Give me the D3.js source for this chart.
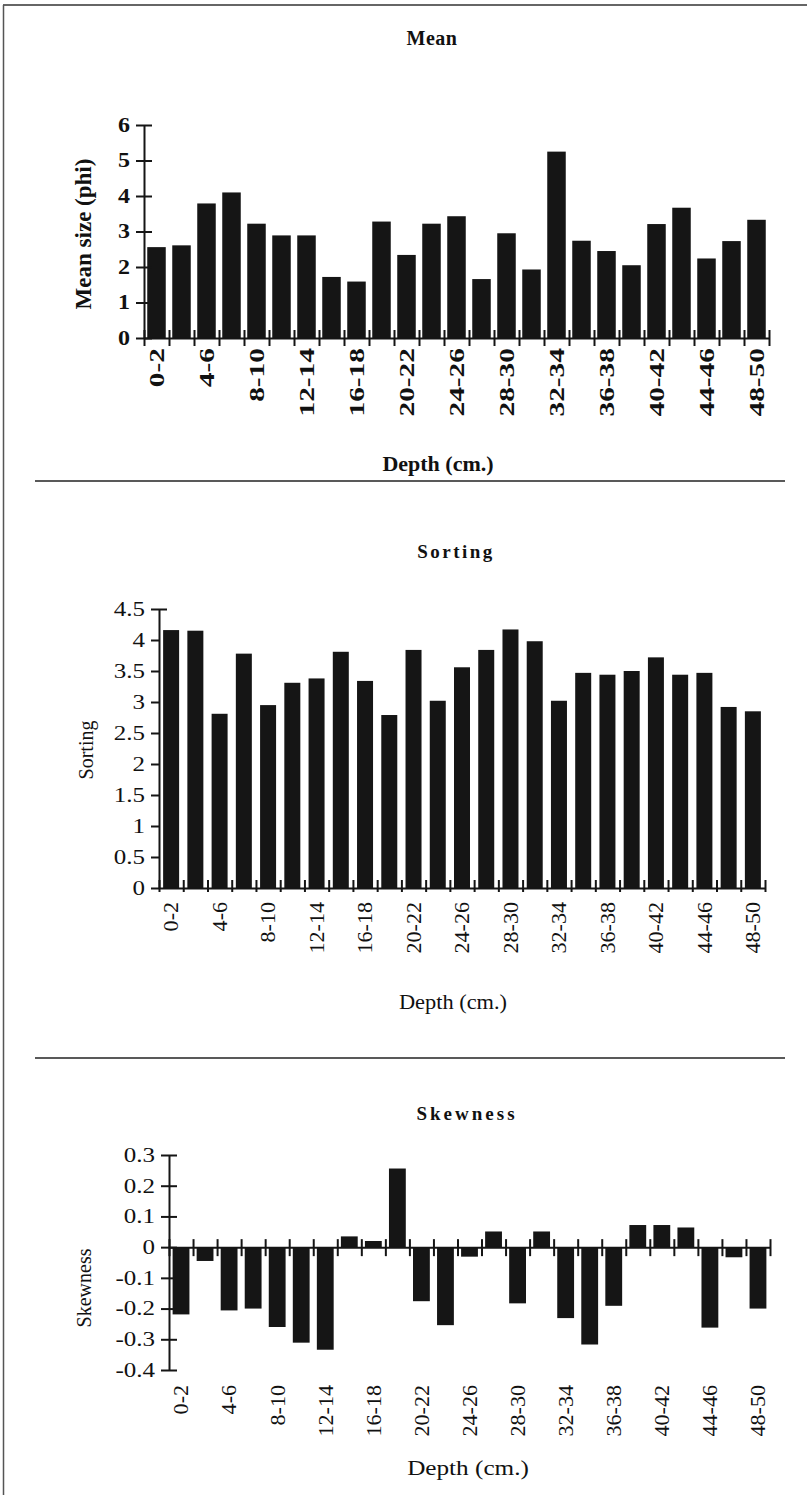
<!DOCTYPE html>
<html>
<head>
<meta charset="utf-8">
<script src="https://cdn.jsdelivr.net/npm/d3@7"></script>
<style>
  body { margin: 0; background: #fff; }
  text { font-family: "Liberation Serif", "Times New Roman", serif; fill: #111; }
</style>
</head>
<body>
<svg id="fig" width="807" height="1495"></svg>
<script>
// Sample depth intervals (cm)
const depths = ["0-2","2-4","4-6","6-8","8-10","10-12","12-14","14-16","16-18","18-20",
  "20-22","22-24","24-26","26-28","28-30","30-32","32-34","34-36","36-38","38-40",
  "40-42","42-44","44-46","46-48","48-50"];

// Grain-size statistics per interval
const meanSize = [2.56,2.61,3.79,4.10,3.22,2.89,2.89,1.72,1.59,3.28,2.34,3.22,3.43,
  1.66,2.95,1.93,5.25,2.74,2.45,2.05,3.21,3.67,2.24,2.73,3.33];
const sorting = [4.16,4.15,2.81,3.78,2.95,3.31,3.38,3.81,3.34,2.79,3.84,3.02,3.56,
  3.84,4.17,3.98,3.02,3.47,3.44,3.50,3.72,3.44,3.47,2.92,2.85];
const skewness = [-0.219,-0.045,-0.206,-0.200,-0.260,-0.311,-0.334,0.035,0.020,0.256,
  -0.176,-0.254,-0.031,0.051,-0.183,0.051,-0.231,-0.317,-0.191,0.072,0.072,0.064,
  -0.262,-0.033,-0.200];

// Axis tick values
const meanTicks = [0,1,2,3,4,5,6];
const sortingTicks = [0,0.5,1,1.5,2,2.5,3,3.5,4,4.5];
const skewTicks = [-0.4,-0.3,-0.2,-0.1,0,0.1,0.2,0.3];
const labelledDepths = ["0-2","4-6","8-10","12-14","16-18","20-22","24-26","28-30",
  "32-34","36-38","40-42","44-46","48-50"];

const svg = d3.select("#fig");
const ink = "#151515";

// page frame and panel separators
svg.append("line").attr("x1", 3).attr("x2", 807).attr("y1", 5).attr("y2", 5)
  .attr("stroke", "#333").attr("stroke-width", 1.5);
svg.append("line").attr("x1", 3.5).attr("x2", 3.5).attr("y1", 5).attr("y2", 1495)
  .attr("stroke", "#555").attr("stroke-width", 1.5);
[481, 1058].forEach(yy => svg.append("line")
  .attr("x1", 35).attr("x2", 785).attr("y1", yy).attr("y2", yy)
  .attr("stroke", "#222").attr("stroke-width", 1.5));

function fmt(v) { return String(+v.toFixed(1)); }

function panel(cfg) {
  const g = svg.append("g");
  const x = d3.scaleBand().domain(depths).range([cfg.x0, cfg.x1])
    .paddingInner(cfg.pad).paddingOuter(cfg.pad / 2);
  const xi = d3.scaleLinear().domain([0, depths.length]).range([cfg.x0, cfg.x1]);
  const y = d3.scaleLinear().domain(cfg.domain).range([cfg.yb, cfg.yt]);
  const weight = cfg.bold ? "bold" : "normal";

  // bars
  g.append("g").selectAll("rect").data(cfg.values).join("rect")
    .attr("x", (d, i) => x(depths[i]))
    .attr("width", x.bandwidth())
    .attr("y", d => y(Math.max(0, d)))
    .attr("height", d => Math.abs(y(d) - y(0)))
    .attr("fill", ink);

  // y axis
  const ya = g.append("g").attr("transform", `translate(${cfg.x0},0)`)
    .call(d3.axisLeft(y).tickValues(cfg.ticks).tickFormat(fmt)
      .tickSize(8).tickSizeOuter(0).tickPadding(6));
  ya.select(".domain").attr("stroke", ink).attr("stroke-width", 2);
  ya.selectAll(".tick line").attr("stroke", ink).attr("stroke-width", 2)
    .attr("x1", d => (cfg.crossY || d === cfg.domain[1]) ? 8 : 0);
  ya.selectAll(".tick text")
    .attr("x", 0)
    .attr("transform", `translate(-14,0) scale(${cfg.yStretch},1)`)
    .style("font-size", cfg.yFont + "px")
    .style("font-weight", weight).style("font-family", "Liberation Serif");

  // x axis along zero with ticks at interval boundaries
  const xa = g.append("g").attr("transform", `translate(0,${y(0)})`)
    .call(d3.axisBottom(xi).tickValues(d3.range(depths.length + 1))
      .tickFormat("").tickSize(cfg.tickDown).tickSizeOuter(0));
  xa.select(".domain").attr("stroke", ink).attr("stroke-width", 2);
  xa.selectAll(".tick line").attr("stroke", ink).attr("stroke-width", 2)
    .attr("y1", -cfg.tickUp);

  // rotated depth labels
  const la = g.append("g").attr("transform", `translate(0,${cfg.labelY})`)
    .call(d3.axisBottom(x).tickValues(labelledDepths).tickSize(0));
  la.select(".domain").remove();
  la.selectAll(".tick text")
    .attr("transform", `rotate(-90) scale(${cfg.labelStretch},1)`)
    .attr("x", 0).attr("y", 0).attr("dy", "0.35em")
    .attr("text-anchor", "end")
    .style("font-size", cfg.xFont + "px")
    .style("font-weight", weight).style("font-family", "Liberation Serif");

  // titles
  g.append("text").attr("x", cfg.titleX).attr("y", cfg.titleY)
    .attr("text-anchor", "middle").attr("dominant-baseline", "middle")
    .style("font-size", cfg.titleFont + "px").style("font-weight", "bold")
    .style("letter-spacing", cfg.spacing + "px").text(cfg.title);
  g.append("text")
    .attr("transform", `translate(${cfg.xTitleX},${cfg.xTitleY}) scale(${cfg.xTitleStretch},1)`)
    .attr("text-anchor", "middle").attr("dominant-baseline", "middle")
    .style("font-size", cfg.xTitleFont + "px").style("font-weight", weight).text("Depth (cm.)");
  g.append("text")
    .attr("transform", `translate(${cfg.yTitleX},${cfg.yTitleY}) rotate(-90)`)
    .attr("text-anchor", "middle").attr("dominant-baseline", "middle")
    .style("font-size", cfg.yTitleFont + "px").style("font-weight", weight).text(cfg.yTitle);
}

panel({ title: "Mean", values: meanSize, domain: [0, 6], ticks: meanTicks,
  x0: 144, x1: 769, yb: 338, yt: 125, pad: 0.26, bold: true, crossY: true,
  yFont: 20, yStretch: 1.2, xFont: 21, labelStretch: 1.4, tickUp: 8, tickDown: 8, labelY: 348,
  titleX: 432, titleY: 40, titleFont: 20, spacing: 0.5,
  xTitleX: 438, xTitleY: 466, xTitleFont: 20, xTitleStretch: 1.1,
  yTitle: "Mean size (phi)", yTitleX: 86, yTitleY: 234, yTitleFont: 23 });

panel({ title: "Sorting", values: sorting, domain: [0, 4.5], ticks: sortingTicks,
  x0: 159, x1: 765, yb: 888, yt: 609, pad: 0.34, bold: false, crossY: false,
  yFont: 20, yStretch: 1.25, xFont: 21, labelStretch: 1.05, tickUp: 8, tickDown: 4, labelY: 902,
  titleX: 456, titleY: 554, titleFont: 19, spacing: 2.5,
  xTitleX: 453, xTitleY: 1004, xTitleFont: 20, xTitleStretch: 1.12,
  yTitle: "Sorting", yTitleX: 88, yTitleY: 750, yTitleFont: 20 });

panel({ title: "Skewness", values: skewness, domain: [-0.4, 0.3], ticks: skewTicks,
  x0: 169, x1: 770, yb: 1370, yt: 1155, pad: 0.3, bold: false, crossY: true,
  yFont: 20, yStretch: 1.25, xFont: 21, labelStretch: 1.05, tickUp: 8, tickDown: 9, labelY: 1385,
  titleX: 467, titleY: 1116, titleFont: 19, spacing: 3,
  xTitleX: 468, xTitleY: 1470, xTitleFont: 21, xTitleStretch: 1.2,
  yTitle: "Skewness", yTitleX: 86, yTitleY: 1288, yTitleFont: 20 });
</script>
</body>
</html>
